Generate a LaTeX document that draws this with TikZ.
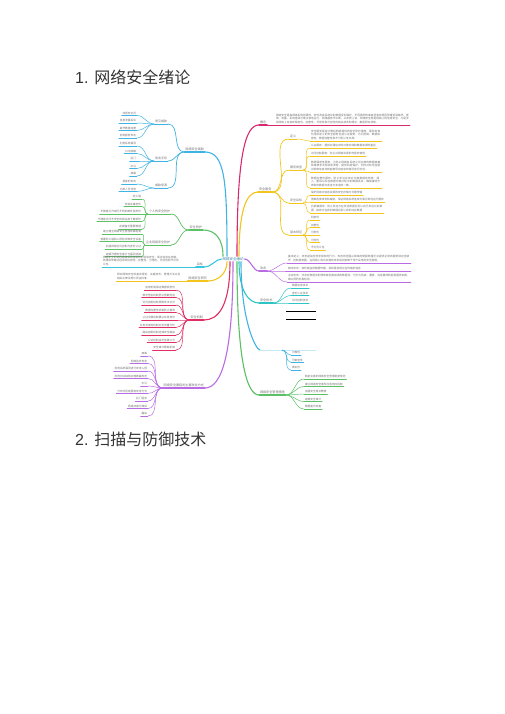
\documentclass[tikz,border=0pt]{standalone}
\usepackage{fontspec}
\setmainfont{Liberation Sans}
\newfontfamily\cjk{Noto Sans CJK SC}
\XeTeXlinebreaklocale "zh"
\XeTeXlinebreakskip=0pt plus 0.5pt
\usepackage{xcolor}
\usepackage{tikz}
\definecolor{mapblue}{HTML}{3FB3E3}
\definecolor{mapgreen}{HTML}{5CC064}
\definecolor{mapcyan}{HTML}{35C5DC}
\definecolor{mapyellow}{HTML}{F3C41C}
\definecolor{mapred}{HTML}{DE2E63}
\definecolor{mappurple}{HTML}{B86BE3}
\definecolor{mappink}{HTML}{D9286E}
\definecolor{mapteal}{HTML}{2EC4C4}
\definecolor{leafgray}{HTML}{707070}

\begin{document}
\begin{tikzpicture}[x=1pt,y=-1pt,
    lab/.style n args={2}{inner xsep=0.8pt, inner ysep=0.7pt, text=leafgray,
      append after command={(\tikzlastnode.south west) edge[draw=#1,line width=#2,line cap=round] (\tikzlastnode.south east)}},
    leaf/.style={lab={#1}{0.5pt}, font=\cjk\fontsize{2.7}{3.9}\selectfont},
    sub/.style={lab={#1}{0.7pt}, font=\cjk\fontsize{3}{3.6}\selectfont},
    main/.style={lab={#1}{1.1pt}, font=\cjk\fontsize{3.1}{3.7}\selectfont},
    lk/.style={draw=#1, line width=0.5pt, line cap=round},
    sublk/.style={draw=#1, line width=0.7pt, line cap=round},
    mainlk/.style={draw=#1, line width=1.1pt, line cap=round}]
\useasboundingbox (0,0) rectangle (505,714);

\node[anchor=west, inner sep=0, font=\fontsize{16}{19}\selectfont, text=black!80] (h1) at (75,77) {1. {\cjk 网络安全绪论}};
\node[anchor=west, inner sep=0, font=\fontsize{16}{19}\selectfont, text=black!80] (h2) at (75,439) {2. {\cjk 扫描与防御技术}};

\node[font=\cjk\fontsize{3.5}{4}\selectfont, text=mapblue!70!black, inner sep=0.8pt] (ctr) at (233,259) {网络安全绪论};

% left side
\node[main=mapblue, anchor=south east] (thr) at (205,152) {网络安全威胁};
\node[sub=mapblue, anchor=south east] (thr1) at (168,124) {常见威胁};
\node[sub=mapblue, anchor=south east] (thr2) at (168,161) {攻击手段};
\node[sub=mapblue, anchor=south east] (thr3) at (168,188) {威胁来源};
\node[leaf=mapblue, anchor=south east] (thr11) at (137,115.5) {非授权访问};
\node[leaf=mapblue, anchor=south east] (thr12) at (137,123) {信息泄露丢失};
\node[leaf=mapblue, anchor=south east] (thr13) at (137,130.5) {破坏数据完整};
\node[leaf=mapblue, anchor=south east] (thr14) at (137,138) {拒绝服务攻击};
\node[leaf=mapblue, anchor=south east] (thr21) at (137,146) {利用系统漏洞};
\node[leaf=mapblue, anchor=south east] (thr22) at (137,153.5) {口令破解};
\node[leaf=mapblue, anchor=south east] (thr23) at (137,161) {后门};
\node[leaf=mapblue, anchor=south east] (thr24) at (137,168.5) {木马};
\node[leaf=mapblue, anchor=south east] (thr25) at (137,176) {病毒};
\node[leaf=mapblue, anchor=south east] (thr31) at (137,184) {黑客的攻击};
\node[leaf=mapblue, anchor=south east] (thr32) at (137,191.5) {内部人员泄密};

\node[main=mapgreen, anchor=south east] (pro) at (203,230) {安全防护};
\node[sub=mapgreen, anchor=south east] (pro1) at (171,214) {个人的安全防护};
\node[sub=mapgreen, anchor=south east] (pro2) at (171,245) {企业网络安全防护};
\node[leaf=mapgreen, anchor=south east] (pro11) at (142,199) {防火墙};
\node[leaf=mapgreen, anchor=south east] (pro12) at (142,206.5) {安装杀毒软件};
\node[leaf=mapgreen, anchor=south east] (pro13) at (142,214) {不随意打开来历不明的邮件及附件};
\node[leaf=mapgreen, anchor=south east] (pro14) at (142,221.5) {不随意访问不安全的网站和下载软件};
\node[leaf=mapgreen, anchor=south east] (pro15) at (142,229) {定期备份重要数据};
\node[leaf=mapgreen, anchor=south east] (pro21) at (142,234) {建立健全网络安全管理规章制度};
\node[leaf=mapgreen, anchor=south east] (pro22) at (142,241.5) {部署防火墙和入侵检测等安全设备};
\node[leaf=mapgreen, anchor=south east] (pro23) at (142,249) {加强网络访问控制与身份认证};
\node[leaf=mapgreen, anchor=south east] (pro24) at (142,256.5) {定期开展安全审计与漏洞扫描};

\node[main=mapcyan, anchor=south east] (aim) at (204,267) {目标};
\node[leaf=mapcyan, anchor=south east, text width=76pt, align=left] (aim1) at (180,267) {网络安全的目标是确保网络系统的信息安全，保证信息在存储、处理和传输过程中的机密性、完整性、可用性、可控性和不可否认性。};

\node[main=mapyellow, anchor=south east] (res) at (208,281) {网络安全研究};
\node[leaf=mapyellow, anchor=south east, text width=64pt, align=left] (res1) at (182,281) {研究网络安全的基本理论、关键技术、管理方法以及相关法律法规与评估标准};

\node[main=mapred, anchor=south east] (mec) at (204,320) {安全机制};
\node[leaf=mapred, anchor=south east] (mec1) at (176,290) {加密机制保证数据机密性};
\node[leaf=mapred, anchor=south east] (mec2) at (176,297.5) {数字签名机制防止抵赖伪造};
\node[leaf=mapred, anchor=south east] (mec3) at (176,305) {访问控制机制限制非法访问};
\node[leaf=mapred, anchor=south east] (mec4) at (176,312.5) {数据完整性机制防止篡改};
\node[leaf=mapred, anchor=south east] (mec5) at (176,320) {认证交换机制确认实体身份};
\node[leaf=mapred, anchor=south east] (mec6) at (176,327.5) {业务流填充机制对抗流量分析};
\node[leaf=mapred, anchor=south east] (mec7) at (176,335) {路由控制机制选择安全路由};
\node[leaf=mapred, anchor=south east] (mec8) at (176,342.5) {公证机制由可信第三方};
\node[leaf=mapred, anchor=south east] (mec9) at (176,350) {安全审计跟踪机制};

\node[main=mappurple, anchor=south east] (way) at (205,388) {网络安全面临的主要攻击方式};
\node[leaf=mappurple, anchor=south east] (way1) at (148,356) {病毒};
\node[leaf=mappurple, anchor=south east] (way2) at (148,363.5) {网络监听攻击};
\node[leaf=mappurple, anchor=south east] (way3) at (148,371) {利用系统漏洞进行攻击入侵};
\node[leaf=mappurple, anchor=south east] (way4) at (148,378.5) {利用协议缺陷实施欺骗攻击};
\node[leaf=mappurple, anchor=south east] (way5) at (148,386) {木马};
\node[leaf=mappurple, anchor=south east] (way6) at (148,393.5) {分布式拒绝服务攻击方式};
\node[leaf=mappurple, anchor=south east] (way7) at (148,401) {后门程序};
\node[leaf=mappurple, anchor=south east] (way8) at (148,408.5) {网络扫描与嗅探};
\node[leaf=mappurple, anchor=south east] (way9) at (148,416) {蠕虫};

% right side
\node[main=mappink, anchor=south west] (def) at (259,125) {概念};
\node[leaf=mappink, anchor=south west, text width=133pt, align=left] (def1) at (275,125) {网络安全是指网络系统的硬件、软件及其系统中的数据受到保护，不因偶然的或者恶意的原因而遭受到破坏、更改、泄露，系统连续可靠正常地运行，网络服务不中断。从本质上讲，网络安全就是网络上的信息安全，凡是涉及网络上信息的保密性、完整性、可用性和可控性的相关技术和理论，都是研究领域。};

\node[main=mapyellow, anchor=south west] (svc) at (258,192) {安全服务};
\node[sub=mapyellow, anchor=south west] (svc1) at (289,139) {定义};
\node[sub=mapyellow, anchor=south west] (svc2) at (289,170) {服务类型};
\node[sub=mapyellow, anchor=south west] (svc3) at (289,203) {安全目标};
\node[sub=mapyellow, anchor=south west] (svc4) at (289,235) {基本特征};
\node[leaf=mapyellow, anchor=south west, text width=70pt, align=left] (svc11) at (310,141) {安全服务是指计算机网络提供的安全防护措施，国际标准化组织定义的安全服务包括认证服务、访问控制、数据保密性、数据完整性和不可否认性五种。};
\node[leaf=mapyellow, anchor=south west] (svc21) at (310,148) {认证服务：提供对通信中的对等实体和数据来源的鉴别};
\node[leaf=mapyellow, anchor=south west] (svc22) at (310,156) {访问控制服务：防止对网络资源的非授权使用};
\node[leaf=mapyellow, anchor=south west, text width=70pt, align=left] (svc23) at (310,172) {数据保密性服务：为防止网络各系统之间交换的数据被截获或被非法存取而泄密，提供机密保护，同时对有可能通过观察信息流就能推导出信息的情况进行防范。};
\node[leaf=mapyellow, anchor=south west, text width=70pt, align=left] (svc24) at (310,188) {数据完整性服务：防止非法实体对交换数据的修改、插入、删除以及在数据交换过程中的数据丢失，确保接收方收到的数据与发送方发送的一致。};
\node[leaf=mapyellow, anchor=south west] (svc31) at (310,195) {保护网络中信息资源的安全存储与可靠传输};
\node[leaf=mapyellow, anchor=south west] (svc32) at (310,202) {抵御各类攻击和威胁，保证网络系统连续可靠正常地运行服务};
\node[leaf=mapyellow, anchor=south west, text width=72pt, align=left] (svc33) at (310,213) {抗抵赖服务：防止发送方在发送数据后否认自己发送过此数据，接收方在收到数据后否认收到过此数据};
\node[leaf=mapyellow, anchor=south west] (svc41) at (310,220) {机密性};
\node[leaf=mapyellow, anchor=south west] (svc42) at (310,227.5) {完整性};
\node[leaf=mapyellow, anchor=south west] (svc43) at (310,235) {可用性};
\node[leaf=mapyellow, anchor=south west] (svc44) at (310,242.5) {可控性};
\node[leaf=mapyellow, anchor=south west] (svc45) at (310,250) {不可否认性};

\node[main=mappurple, anchor=south west] (att) at (259,271) {攻击};
\node[leaf=mappurple, anchor=south west, text width=122pt, align=left] (att1) at (287,263) {基本定义：攻击是指任何非授权的行为，攻击的范围从简单的使服务器无法提供正常的服务到完全破坏、控制服务器，在网络上成功实施的攻击级别依赖于用户采用的安全措施。};
\node[leaf=mappurple, anchor=south west, text width=122pt, align=left] (att2) at (287,271) {被动攻击：窃听或监视数据传输，目的是获得正在传输的信息};
\node[leaf=mappurple, anchor=south west, text width=122pt, align=left] (att3) at (287,282) {主动攻击：涉及对数据流的修改或创建错误的数据流，可分为伪装、重放、消息篡改和拒绝服务四类，难以预防但易检测。};

\node[main=mapteal, anchor=south west] (tea) at (259,303) {安全技术};
\node[leaf=mapteal, anchor=south west] (tea1) at (291,288) {数据加密技术};
\node[leaf=mapteal, anchor=south west] (tea2) at (291,295.5) {身份认证技术};
\node[leaf=mapteal, anchor=south west] (tea3) at (291,303) {访问控制技术};

\coordinate (blu) at (260,350);
\coordinate (hid) at (282,350);
\node[leaf=mapblue, anchor=south west] (blu1) at (291,355) {可靠性};
\node[leaf=mapblue, anchor=south west] (blu2) at (291,362.5) {可审查性};
\node[leaf=mapblue, anchor=south west] (blu3) at (291,370) {真实性};

\node[main=mapgreen, anchor=south west] (man) at (259,395) {网络安全管理措施};
\node[leaf=mapgreen, anchor=south west] (man1) at (304,379) {制定完善的网络安全管理制度规范};
\node[leaf=mapgreen, anchor=south west] (man2) at (304,386.5) {建立网络安全事件应急响应机制};
\node[leaf=mapgreen, anchor=south west] (man3) at (304,394) {加强安全意识教育};
\node[leaf=mapgreen, anchor=south west] (man4) at (304,401.5) {定期安全审计};
\node[leaf=mapgreen, anchor=south west] (man5) at (304,409) {数据备份恢复};

% branches from the centre
\draw[mainlk=mapblue] ([xshift=-6pt]ctr.north) .. controls +(0,-75) and +(20,0) .. (thr.south east);
\draw[mainlk=mapgreen] ([xshift=-10pt]ctr.north) .. controls +(0,-18) and +(12,0) .. (pro.south east);
\draw[mainlk=mapcyan] (ctr.west) .. controls +(-6,0) and +(8,0) .. (aim.south east);
\draw[mainlk=mapyellow] ([xshift=-6pt]ctr.south) .. controls +(0,12) and +(10,0) .. (res.south east);
\draw[mainlk=mapred] ([xshift=-3pt]ctr.south) .. controls +(0,45) and +(14,0) .. (mec.south east);
\draw[mainlk=mappurple] (ctr.south) .. controls +(0,95) and +(16,0) .. (way.south east);
\draw[mainlk=mappink] ([xshift=4pt]ctr.north) .. controls +(0,-100) and +(-14,0) .. (def.south west);
\draw[mainlk=mapyellow] ([xshift=6pt]ctr.north) .. controls +(0,-45) and +(-12,0) .. (svc.south west);
\draw[mainlk=mappurple] (ctr.east) .. controls +(6,0) and +(-6,0) .. (att.south west);
\draw[mainlk=mapteal] ([xshift=6pt]ctr.south) .. controls +(0,30) and +(-10,0) .. (tea.south west);
\draw[mainlk=mapblue] ([xshift=8pt]ctr.south) .. controls +(0,60) and +(-4,0) .. (blu);
\draw[mainlk=mapgreen] ([xshift=4pt]ctr.south) .. controls +(0,100) and +(-12,0) .. (man.south west);

% sub branches
\draw[sublk=mapblue] (thr.south west) to[out=180,in=0] (thr1.south east);
\draw[sublk=mapblue] (thr.south west) to[out=180,in=0] (thr2.south east);
\draw[sublk=mapblue] (thr.south west) to[out=180,in=0] (thr3.south east);
\draw[lk=mapblue] (thr1.south west) to[out=180,in=0] (thr11.south east);
\draw[lk=mapblue] (thr1.south west) to[out=180,in=0] (thr12.south east);
\draw[lk=mapblue] (thr1.south west) to[out=180,in=0] (thr13.south east);
\draw[lk=mapblue] (thr1.south west) to[out=180,in=0] (thr14.south east);
\draw[lk=mapblue] (thr2.south west) to[out=180,in=0] (thr21.south east);
\draw[lk=mapblue] (thr2.south west) to[out=180,in=0] (thr22.south east);
\draw[lk=mapblue] (thr2.south west) to[out=180,in=0] (thr23.south east);
\draw[lk=mapblue] (thr2.south west) to[out=180,in=0] (thr24.south east);
\draw[lk=mapblue] (thr2.south west) to[out=180,in=0] (thr25.south east);
\draw[lk=mapblue] (thr3.south west) to[out=180,in=0] (thr31.south east);
\draw[lk=mapblue] (thr3.south west) to[out=180,in=0] (thr32.south east);

\draw[sublk=mapgreen] (pro.south west) to[out=180,in=0] (pro1.south east);
\draw[sublk=mapgreen] (pro.south west) to[out=180,in=0] (pro2.south east);
\draw[lk=mapgreen] (pro1.south west) to[out=180,in=0] (pro11.south east);
\draw[lk=mapgreen] (pro1.south west) to[out=180,in=0] (pro12.south east);
\draw[lk=mapgreen] (pro1.south west) to[out=180,in=0] (pro13.south east);
\draw[lk=mapgreen] (pro1.south west) to[out=180,in=0] (pro14.south east);
\draw[lk=mapgreen] (pro1.south west) to[out=180,in=0] (pro15.south east);
\draw[lk=mapgreen] (pro2.south west) to[out=180,in=0] (pro21.south east);
\draw[lk=mapgreen] (pro2.south west) to[out=180,in=0] (pro22.south east);
\draw[lk=mapgreen] (pro2.south west) to[out=180,in=0] (pro23.south east);
\draw[lk=mapgreen] (pro2.south west) to[out=180,in=0] (pro24.south east);

\draw[lk=mapcyan] (aim.south west) -- (aim1.south east);
\draw[lk=mapyellow] (res.south west) -- (res1.south east);

\draw[lk=mapred] (mec.south west) to[out=180,in=0] (mec1.south east);
\draw[lk=mapred] (mec.south west) to[out=180,in=0] (mec2.south east);
\draw[lk=mapred] (mec.south west) to[out=180,in=0] (mec3.south east);
\draw[lk=mapred] (mec.south west) to[out=180,in=0] (mec4.south east);
\draw[lk=mapred] (mec.south west) to[out=180,in=0] (mec5.south east);
\draw[lk=mapred] (mec.south west) to[out=180,in=0] (mec6.south east);
\draw[lk=mapred] (mec.south west) to[out=180,in=0] (mec7.south east);
\draw[lk=mapred] (mec.south west) to[out=180,in=0] (mec8.south east);
\draw[lk=mapred] (mec.south west) to[out=180,in=0] (mec9.south east);

\draw[lk=mappurple] (way.south west) to[out=180,in=0] (way1.south east);
\draw[lk=mappurple] (way.south west) to[out=180,in=0] (way2.south east);
\draw[lk=mappurple] (way.south west) to[out=180,in=0] (way3.south east);
\draw[lk=mappurple] (way.south west) to[out=180,in=0] (way4.south east);
\draw[lk=mappurple] (way.south west) to[out=180,in=0] (way5.south east);
\draw[lk=mappurple] (way.south west) to[out=180,in=0] (way6.south east);
\draw[lk=mappurple] (way.south west) to[out=180,in=0] (way7.south east);
\draw[lk=mappurple] (way.south west) to[out=180,in=0] (way8.south east);
\draw[lk=mappurple] (way.south west) to[out=180,in=0] (way9.south east);

\draw[lk=mappink] (def.south east) -- (def1.south west);

\draw[sublk=mapyellow] (svc.south east) to[out=0,in=180] (svc1.south west);
\draw[sublk=mapyellow] (svc.south east) to[out=0,in=180] (svc2.south west);
\draw[sublk=mapyellow] (svc.south east) to[out=0,in=180] (svc3.south west);
\draw[sublk=mapyellow] (svc.south east) to[out=0,in=180] (svc4.south west);
\draw[lk=mapyellow] (svc1.south east) to[out=0,in=180] (svc11.south west);
\draw[lk=mapyellow] (svc2.south east) to[out=0,in=180] (svc21.south west);
\draw[lk=mapyellow] (svc2.south east) to[out=0,in=180] (svc22.south west);
\draw[lk=mapyellow] (svc2.south east) to[out=0,in=180] (svc23.south west);
\draw[lk=mapyellow] (svc2.south east) to[out=0,in=180] (svc24.south west);
\draw[lk=mapyellow] (svc3.south east) to[out=0,in=180] (svc31.south west);
\draw[lk=mapyellow] (svc3.south east) to[out=0,in=180] (svc32.south west);
\draw[lk=mapyellow] (svc3.south east) to[out=0,in=180] (svc33.south west);
\draw[lk=mapyellow] (svc4.south east) to[out=0,in=180] (svc41.south west);
\draw[lk=mapyellow] (svc4.south east) to[out=0,in=180] (svc42.south west);
\draw[lk=mapyellow] (svc4.south east) to[out=0,in=180] (svc43.south west);
\draw[lk=mapyellow] (svc4.south east) to[out=0,in=180] (svc44.south west);
\draw[lk=mapyellow] (svc4.south east) to[out=0,in=180] (svc45.south west);

\draw[lk=mappurple] (att.south east) to[out=0,in=180] (att1.south west);
\draw[lk=mappurple] (att.south east) to[out=0,in=180] (att2.south west);
\draw[lk=mappurple] (att.south east) to[out=0,in=180] (att3.south west);

\draw[lk=mapteal] (tea.south east) to[out=0,in=180] (tea1.south west);
\draw[lk=mapteal] (tea.south east) to[out=0,in=180] (tea2.south west);
\draw[lk=mapteal] (tea.south east) to[out=0,in=180] (tea3.south west);

\draw[line width=0.6pt, mapblue!30] (blu) -- (316,350);
\draw[lk=mapblue] (hid) to[out=0,in=180] (blu1.south west);
\draw[lk=mapblue] (hid) to[out=0,in=180] (blu2.south west);
\draw[lk=mapblue] (hid) to[out=0,in=180] (blu3.south west);
\draw[line width=0.8pt] (286,311) -- (316,311);
\draw[line width=0.8pt] (286,319) -- (316,319);

\draw[lk=mapgreen] (man.south east) to[out=0,in=180] (man1.south west);
\draw[lk=mapgreen] (man.south east) to[out=0,in=180] (man2.south west);
\draw[lk=mapgreen] (man.south east) to[out=0,in=180] (man3.south west);
\draw[lk=mapgreen] (man.south east) to[out=0,in=180] (man4.south west);
\draw[lk=mapgreen] (man.south east) to[out=0,in=180] (man5.south west);
\end{tikzpicture}
\end{document}
